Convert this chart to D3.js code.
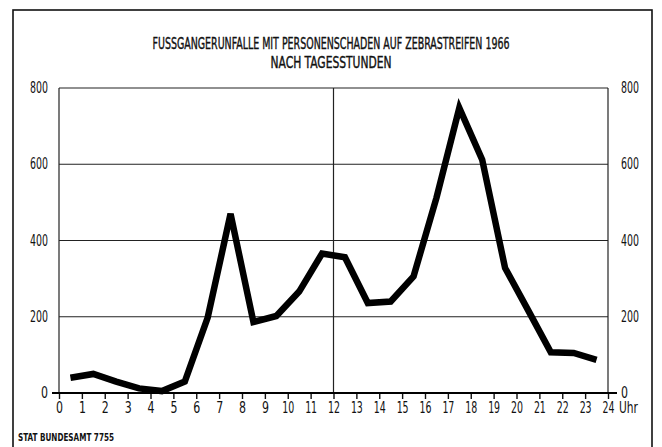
<!DOCTYPE html>
<html>
<head>
<meta charset="utf-8">
<script src="https://cdnjs.cloudflare.com/ajax/libs/d3/7.8.5/d3.min.js"></script>
<style>
    body { margin: 0; background: #fff; }
    svg { display: block; }
    text { font-family: "DejaVu Sans Condensed", "Liberation Sans Narrow", sans-serif; fill: #111; }
    .grid line { stroke: #222; stroke-width: 1.2; }
    .frame { fill: none; stroke: #111; stroke-width: 1.6; }
    .curve { fill: none; stroke: #000; stroke-width: 6.5; stroke-linejoin: miter; }
</style>
</head>
<body>
<svg class="chart"></svg>
<script>
var titleLines = ["FUSSGANGERUNFALLE MIT PERSONENSCHADEN AUF ZEBRASTREIFEN 1966", "NACH TAGESSTUNDEN"];
var hours = [0.5, 1.5, 2.5, 3.5, 4.5, 5.5, 6.5, 7.5, 8.5, 9.5, 10.5, 11.5,
             12.5, 13.5, 14.5, 15.5, 16.5, 17.5, 18.5, 19.5, 20.5, 21.5, 22.5, 23.5];
var accidents = [40, 50, 30, 12, 5, 30, 198, 470, 186, 202, 266, 366,
                 356, 236, 240, 306, 512, 748, 612, 328, 218, 107, 105, 87];
var hourTicks = d3.range(0, 25);
var valueTicks = [0, 200, 400, 600, 800];
var source = "STAT  BUNDESAMT 7755";

(function() {
    var width = 662, height = 447;
    var pLeft = 59, pRight = 608, pTop = 88, pBottom = 393;

    var chart = d3.select(".chart")
        .attr("width", width)
        .attr("height", height);

    var x = d3.scaleLinear().domain([0, 24]).range([pLeft, pRight]);
    var y = d3.scaleLinear().domain([0, 800]).range([pBottom, pTop]);

    // outer frame (runs off the bottom edge like the scan)
    chart.append("rect")
        .attr("class", "frame")
        .attr("x", 13).attr("y", 10)
        .attr("width", 639).attr("height", 460);

    // title
    chart.append("g").selectAll("text")
        .data(titleLines)
        .enter().append("text")
        .attr("x", 331)
        .attr("y", function(d, i) { return 49 + i * 19; })
        .attr("text-anchor", "middle")
        .attr("font-size", 16)
        .attr("textLength", function(d, i) { return i ? 121 : 357; })
        .attr("lengthAdjust", "spacingAndGlyphs")
        .style("stroke", "#111").style("stroke-width", 0.4)
        .text(function(d) { return d; });

    // grid
    var grid = chart.append("g").attr("class", "grid");

    grid.append("g").selectAll("line")
        .data(valueTicks.slice(1))
        .enter().append("line")
        .attr("x1", pLeft).attr("x2", pRight)
        .attr("y1", y).attr("y2", y);

    grid.append("g").selectAll("line")
        .data([0, 12, 24])
        .enter().append("line")
        .attr("x1", x).attr("x2", x)
        .attr("y1", pTop).attr("y2", pBottom);

    // x axis: line with ticks hanging down
    var xAxis = d3.axisBottom(x)
        .tickValues(hourTicks)
        .tickSize(6)
        .tickPadding(3)
        .tickFormat(d3.format("d"));

    var xa = chart.append("g")
        .attr("transform", "translate(0," + pBottom + ")")
        .call(xAxis);

    xa.select(".domain").remove();
    xa.selectAll("line").attr("stroke", "#111").attr("stroke-width", 1.4);
    xa.selectAll("text")
        .attr("font-size", 15)
        .attr("font-family", "\"DejaVu Sans Condensed\", sans-serif")
        .attr("fill", "#111")
        .attr("textLength", function(d) { return d < 10 ? 7 : 12; })
        .attr("lengthAdjust", "spacingAndGlyphs");

    chart.append("line")
        .attr("x1", pLeft - 7).attr("x2", pRight + 9)
        .attr("y1", pBottom).attr("y2", pBottom)
        .attr("stroke", "#000").attr("stroke-width", 2.2);

    chart.append("text")
        .attr("x", pRight + 11).attr("y", pBottom + 20)
        .attr("font-size", 15)
        .attr("textLength", 19)
        .attr("lengthAdjust", "spacingAndGlyphs")
        .text("Uhr");

    // y labels both sides
    var yl = chart.append("g");
    yl.selectAll("text.l")
        .data(valueTicks)
        .enter().append("text")
        .attr("class", "l")
        .attr("x", 48)
        .attr("y", function(d) { return y(d) + 5; })
        .attr("text-anchor", "end")
        .attr("font-size", 15)
        .attr("textLength", function(d) { return d ? 18 : 7; })
        .attr("lengthAdjust", "spacingAndGlyphs")
        .text(function(d) { return d; });

    yl.selectAll("text.r")
        .data(valueTicks)
        .enter().append("text")
        .attr("class", "r")
        .attr("x", 621)
        .attr("y", function(d) { return y(d) + 5; })
        .attr("font-size", 15)
        .attr("textLength", function(d) { return d ? 18 : 7; })
        .attr("lengthAdjust", "spacingAndGlyphs")
        .text(function(d) { return d; });

    // the curve
    var line = d3.line()
        .x(function(d, i) { return x(hours[i]); })
        .y(function(d) { return y(d); });

    chart.append("path")
        .attr("class", "curve")
        .attr("d", line(accidents));

    // source note
    chart.append("text")
        .attr("x", 18).attr("y", 441)
        .attr("font-size", 10)
        .attr("font-weight", "bold")
        .attr("textLength", 96)
        .attr("lengthAdjust", "spacingAndGlyphs")
        .text(source);
})();
</script>
</body>
</html>
